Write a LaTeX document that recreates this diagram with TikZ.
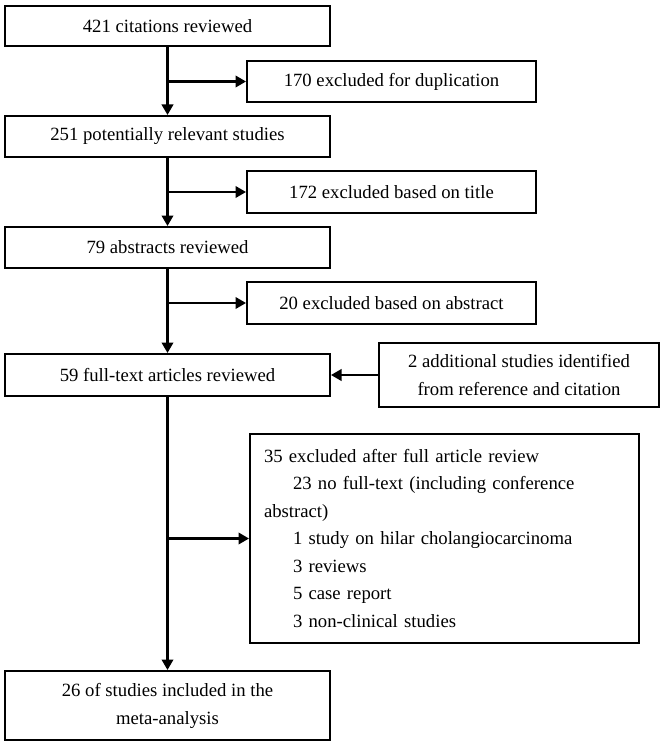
\documentclass[tikz,border=0pt]{standalone}
\usepackage{fontspec}
\setmainfont{Liberation Serif}
\usetikzlibrary{arrows.meta}
\tikzset{
  box/.style={draw=black, line width=2pt, inner sep=0pt, align=center,
    font=\fontsize{18.7}{28}\selectfont},
  arr/.style={draw=black, line width=2.2pt, -{Triangle[length=10.5pt,width=11.5pt]}}
}
\begin{document}
\begin{tikzpicture}[x=1pt,y=-1pt]
\useasboundingbox (0,0) rectangle (664,746);
\node[box, minimum width=325pt, minimum height=40pt] (b1) at (167.5,26) {421 citations reviewed};
\node[box, minimum width=289pt, minimum height=41pt] (b170) at (391.5,81.5) {170 excluded for duplication};
\node[box, minimum width=325pt, minimum height=41pt] (b251) at (167.5,136.5) {251 potentially relevant studies};
\node[box, minimum width=289pt, minimum height=42pt] (b172) at (391.5,192) {172 excluded based on title};
\node[box, minimum width=325pt, minimum height=41pt] (b79) at (167.5,247.5) {79 abstracts reviewed};
\node[box, minimum width=289pt, minimum height=42pt] (b20) at (391.5,303) {20 excluded based on abstract};
\node[box, minimum width=325pt, minimum height=42pt] (b59) at (167.5,375) {59 full-text articles reviewed};
\node[box, minimum width=280pt, minimum height=64pt] (b2) at (519,375) {2 additional studies identified\\from reference and citation};
\node[box, minimum width=389pt, minimum height=209pt, text width=361pt, align=left,
  font=\fontsize{18.7}{27.5}\selectfont] (b35) at (444.5,538.5)
  {35 excluded after full article review\\
   \hspace*{29pt}23 no full-text (including conference\\
   abstract)\\
   \hspace*{29pt}1 study on hilar cholangiocarcinoma\\
   \hspace*{29pt}3 reviews\\
   \hspace*{29pt}5 case report\\
   \hspace*{29pt}3 non-clinical studies};
\node[box, minimum width=325pt, minimum height=69pt] (b26) at (167.5,705.5) {26 of studies included in the\\meta-analysis};
% main flow
\draw[arr] (b1) -- (b251);
\draw[arr] (b251) -- (b79);
\draw[arr] (b79) -- (b59);
\draw[arr] (b59) -- (b26);
% branches
\draw[arr] (b1.south |- b170.west) -- (b170.west);
\draw[arr] (b251.south |- b172.west) -- (b172.west);
\draw[arr] (b79.south |- b20.west) -- (b20.west);
\draw[arr] (b59.south |- b35.west) -- (b35.west);
\draw[arr] (b2.west) -- (b59.east);
\end{tikzpicture}
\end{document}
